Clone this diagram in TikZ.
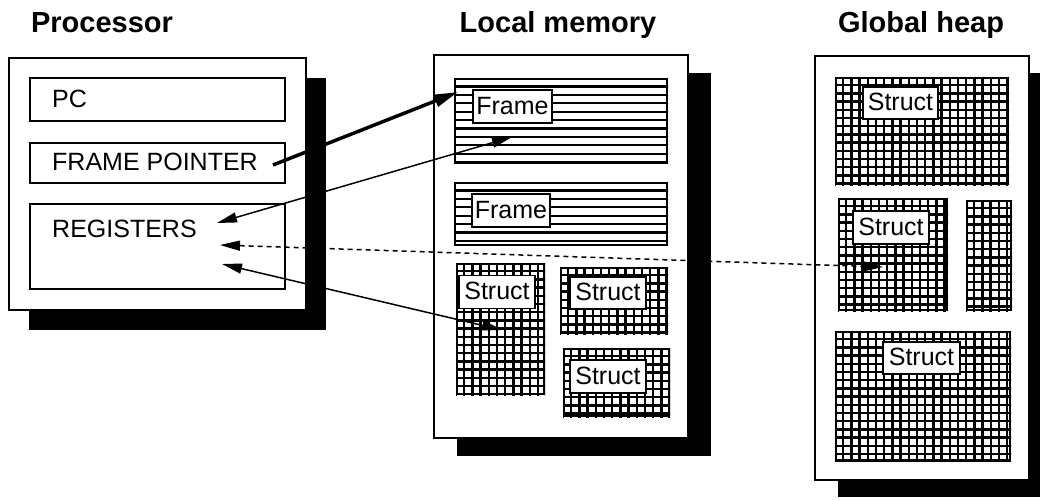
\documentclass[tikz,border=0pt]{standalone}
\usepackage{fontspec}
\setmainfont{Liberation Sans}
\usetikzlibrary{arrows.meta}
\newcommand{\fsbody}{\fontsize{25}{30}\selectfont}
\newcommand{\fstitle}{\fontsize{29}{34}\selectfont\bfseries}
\newcommand{\gridin}[1]{%
  \begin{scope}
    \clip (#1.north west) rectangle (#1.south east);
    \foreach \k in {0,...,27} {
      \draw[gridline] ([xshift=\k*8.2pt]#1.north west) -- ++(0,200);
      \draw[gridline] ([yshift=-\k*8.2pt]#1.north west) -- ++(250,0);
    }
  \end{scope}}
\newcommand{\linesin}[1]{%
  \begin{scope}
    \clip (#1.north west) rectangle (#1.south east);
    \foreach \k in {0,...,12} {
      \draw[frameline] ([yshift=-\k*8.4pt]#1.north west) -- ++(250,0);
    }
  \end{scope}}
\begin{document}
\begin{tikzpicture}[x=1pt,y=-1pt,
  outerbox/.style={draw, fill=white, line width=1.8pt, anchor=north west, inner sep=0pt},
  shadowbox/.style={fill=black, draw=none, anchor=north west, inner sep=0pt},
  regbox/.style={draw, line width=1.5pt, anchor=north west, inner sep=0pt},
  title/.style={font=\fstitle, anchor=base, inner sep=0pt},
  regtext/.style={font=\fsbody, anchor=base west, inner sep=0pt},
  area/.style={draw, line width=2pt, anchor=north west, inner sep=0pt},
  gridline/.style={line width=2.5pt},
  frameline/.style={line width=2.2pt},
  lbl/.style={draw, fill=white, line width=1.5pt, inner sep=0pt,
    minimum height=33pt, text height=18pt, text depth=3pt, font=\fsbody},
  link/.style={line width=1.5pt,
    {Triangle[length=20pt,width=10pt]}-{Triangle[length=20pt,width=10pt]}},
  thicklink/.style={line width=3.5pt, -{Triangle[length=24pt,width=12pt]}},
]
\useasboundingbox (0,0) rectangle (1040,499);

% titles
\node[title] (tproc) at (102,32) {Processor};
\node[title] (tlocal) at (558,32) {Local memory};
\node[title] (theap) at (921,32) {Global heap};

% shadows
\node[shadowbox, minimum width=297pt, minimum height=252pt] (procsh) at (29,78) {};
\node[shadowbox, minimum width=254pt, minimum height=383pt] (localsh) at (457,73) {};
\node[shadowbox, minimum width=214pt, minimum height=424pt] (heapsh) at (838,73) {};

% outer boxes
\node[outerbox, minimum width=297pt, minimum height=252pt] (proc) at (8,57) {};
\node[outerbox, minimum width=254pt, minimum height=383pt] (local) at (433,54) {};
\node[outerbox, minimum width=214pt, minimum height=424pt] (heap) at (814,55) {};

% processor registers
\node[regbox, minimum width=255pt, minimum height=43pt] (pc) at (29,77) {};
\node[regbox, minimum width=255pt, minimum height=40pt] (fp) at (29,142) {};
\node[regbox, minimum width=255pt, minimum height=85pt] (regs) at (29,203) {};
\node[regtext] (pctext) at (52,107) {PC};
\node[regtext] (fptext) at (52,170) {FRAME POINTER};
\node[regtext] (regtext) at (52,237) {REGISTERS};

% local memory
\node[area, minimum width=212pt, minimum height=84pt] (fr1) at (454,78) {};
\linesin{fr1}
\node[area, minimum width=212pt, minimum height=62pt] (fr2) at (454,182) {};
\linesin{fr2}
\node[area, minimum width=87pt, minimum height=130pt] (ls1) at (456,263) {};
\gridin{ls1}
\node[area, minimum width=106pt, minimum height=65pt] (ls2) at (560,267) {};
\gridin{ls2}
\node[area, minimum width=105pt, minimum height=67pt] (ls3) at (563,348) {};
\gridin{ls3}
\node[lbl, minimum width=79pt] (fr1l) at (512.5,106.5) {Frame};
\node[lbl, minimum width=78pt] (fr2l) at (511,210.5) {Frame};
\node[lbl, minimum width=76pt] (ls1l) at (497,292) {Struct};
\node[lbl, minimum width=76pt, minimum height=32pt] (ls2l) at (608,293) {Struct};
\node[lbl, minimum width=76pt] (ls3l) at (608,376.5) {Struct};

% global heap
\node[area, minimum width=172pt, minimum height=106pt] (h1) at (835,77) {};
\gridin{h1}
\node[area, minimum width=108pt, minimum height=111pt] (h2) at (838,198) {};
\gridin{h2}
\node[area, minimum width=44pt, minimum height=109pt] (h3) at (966,200) {};
\gridin{h3}
\node[area, minimum width=174pt, minimum height=128pt] (h4) at (835,331) {};
\gridin{h4}
\node[lbl, minimum width=75pt, minimum height=32pt] (h1l) at (900.5,103) {Struct};
\node[lbl, minimum width=76pt] (h2l) at (891,227.5) {Struct};
\node[lbl, minimum width=77pt, minimum height=32pt] (h4l) at (921.5,358) {Struct};

% connector end points
\coordinate (fpout) at (273,165);
\coordinate (frin) at (458,92);
\coordinate (frmid) at (512,137);
\coordinate (rega) at (217,223);
\coordinate (regb) at (220,245);
\coordinate (heapin) at (883,267);
\coordinate (regc) at (222,264);
\coordinate (stin) at (502,330);

% connectors
\draw[thicklink] (fpout) -- (frin);
\draw[link] (rega) -- (frmid);
\draw[link, dash pattern=on 5pt off 4pt] (regb) -- (heapin);
\draw[link] (regc) -- (stin);
\end{tikzpicture}
\end{document}
